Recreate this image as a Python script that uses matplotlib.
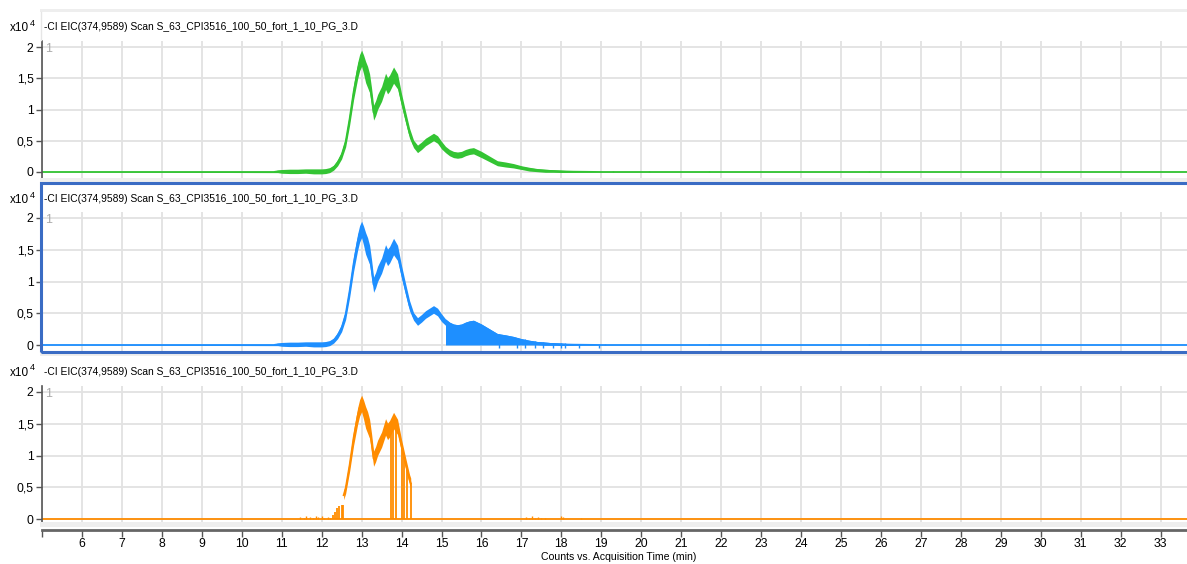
import matplotlib
matplotlib.use("Agg")
import numpy as np
import matplotlib.pyplot as plt
from matplotlib.patches import Rectangle
from matplotlib.lines import Line2D

W, H = 1187, 564

# retention time (min) and the EIC trace (counts x10^4)
rt = [5.0, 10.8, 10.9, 11.0, 11.2, 11.4, 11.6, 11.8, 12.0, 12.1, 12.2, 12.3, 12.4,
      12.5, 12.6, 12.7, 12.8, 12.9, 12.95, 13.0, 13.05, 13.1, 13.15, 13.2, 13.25, 13.3,
      13.35, 13.4, 13.5, 13.6, 13.65, 13.7, 13.8, 13.9, 14.0, 14.1, 14.2, 14.3, 14.4,
      14.5, 14.6, 14.7, 14.8, 14.9, 15.0, 15.1, 15.2, 15.3, 15.4, 15.5, 15.6,
      15.7, 15.8, 15.9, 16.0, 16.2, 16.4, 16.6, 16.8, 17.0, 17.2, 17.4, 17.6,
      17.8, 18.0, 18.3, 18.6, 19.0, 33.7]
eic = [0.0, 0.0, 0.01, 0.01, 0.01, 0.01, 0.015, 0.01, 0.01, 0.015, 0.03, 0.07, 0.15,
       0.27, 0.48, 0.85, 1.28, 1.62, 1.75, 1.82, 1.72, 1.60, 1.52, 1.42, 1.20, 0.95,
       1.02, 1.12, 1.25, 1.45, 1.38, 1.42, 1.55, 1.45, 1.15, 0.88, 0.62, 0.45, 0.37,
       0.42, 0.48, 0.52, 0.56, 0.52, 0.43, 0.36, 0.31, 0.28, 0.27, 0.28, 0.31,
       0.33, 0.34, 0.31, 0.28, 0.21, 0.14, 0.12, 0.10, 0.07, 0.045, 0.03, 0.02,
       0.015, 0.01, 0.005, 0.003, 0.0, 0.0]
# half width of the noise band
eic_noise = [0.0, 0.01, 0.02, 0.03, 0.035, 0.035, 0.035, 0.04, 0.04, 0.04, 0.04, 0.04, 0.05,
             0.06, 0.08, 0.1, 0.12, 0.13, 0.13, 0.13, 0.15, 0.17, 0.17, 0.15, 0.14, 0.12,
             0.12, 0.12, 0.12, 0.13, 0.13, 0.13, 0.13, 0.12, 0.1, 0.09, 0.08, 0.06, 0.06,
             0.06, 0.06, 0.06, 0.06, 0.06, 0.06, 0.05, 0.05, 0.05, 0.05, 0.05, 0.05,
             0.05, 0.05, 0.05, 0.05, 0.045, 0.04, 0.04, 0.035, 0.03, 0.03, 0.025, 0.025,
             0.02, 0.018, 0.012, 0.008, 0.003, 0.0]

green_blips = [19.3, 20.2, 21.7, 25.7]
blue_blips = [19.1, 21.7, 25.7]
blue_filled = (15.08, 18.45)
blue_drops = [16.45, 16.9, 17.1, 17.35, 17.55, 17.8, 18.0, 18.1, 18.45, 18.95]
orange_window = (12.55, 14.23)
orange_drops = [13.73, 13.79, 13.87, 14.0, 14.06, 14.13, 14.23]
orange_rise_t = [12.28, 12.33, 12.39, 12.44, 12.5, 12.54]
orange_rise_v = [0.06, 0.11, 0.17, 0.2, 0.22, 0.22]
orange_noise_t = [11.45, 11.55, 11.6, 11.7, 11.78, 11.85, 11.9, 12.0, 12.05, 12.15, 12.22,
                  17.12, 17.2, 17.27, 17.35, 17.42, 17.5, 17.6, 17.98, 18.03, 18.48]
orange_noise_v = [0.03, 0.02, 0.04, 0.03, 0.02, 0.04, 0.03, 0.05, 0.02, 0.03, 0.02,
                  0.03, 0.02, 0.04, 0.02, 0.03, 0.02, 0.02, 0.04, 0.03, 0.02]

xticks = list(range(5, 34))
xticklabels = [""] + [str(v) for v in range(6, 34)]
yticks = [0, 0.5, 1, 1.5, 2]
yticklabels = ["0", "0,5", "1", "1,5", "2"]
title = "-CI EIC(374,9589) Scan S_63_CPI3516_100_50_fort_1_10_PG_3.D"

GREEN, BLUE, ORANGE = "#33c433", "#1e8fff", "#ff8c00"
FRAME = "#3a6cc4"

plt.rcParams["font.family"] = ["Liberation Sans", "DejaVu Sans"]

rt = np.array(rt)
eic = np.array(eic)
eic_noise = np.array(eic_noise)

fig = plt.figure(figsize=(W / 100, H / 100), dpi=100)


def fx(px):
    return px / W


def fy(py):
    return 1 - py / H


# (y pixel of 0, y pixel of 2, axes top, axes bottom, header text y)
panels = [(172, 47, 41, 178, 27), (345, 218, 212, 351, 199), (519, 392, 386, 522, 372)]
axes = []
for y0, y2, top, bot, ty in panels:
    ax = fig.add_axes([fx(42), fy(bot), fx(1187 - 42), (bot - top) / H])
    sc = (y0 - y2) / 2
    ax.set_ylim((y0 - bot) / sc, (y0 - top) / sc)
    ax.set_xlim(5.0, 33.66)
    ax.set_xticks(xticks)
    ax.set_yticks(yticks)
    ax.set_yticklabels(yticklabels)
    ax.grid(True, color="#e2e2e2", lw=1.3)
    ax.set_axisbelow(True)
    for s in ["top", "right", "bottom"]:
        ax.spines[s].set_visible(False)
    ax.spines["left"].set_color("#555555")
    ax.spines["left"].set_linewidth(1.2)
    ax.tick_params(axis="y", length=4, width=1, color="#555555", labelsize=8.8, pad=2)
    ax.tick_params(axis="x", length=0, labelbottom=False)
    fig.text(fx(44), fy(ty), title, fontsize=7.4, va="center", ha="left")
    fig.text(fx(10), fy(ty + 1), "x10", fontsize=8.5, va="center", ha="left")
    fig.text(fx(30), fy(ty - 4), "4", fontsize=6.5, va="center", ha="left")
    fig.text(fx(45), fy(y2 + 2), "1", fontsize=9, color="#aaaaaa", va="center", ha="left")
    axes.append(ax)

ax1, ax2, ax3 = axes

# green trace
ax1.fill_between(rt, eic - eic_noise, eic + eic_noise, color=GREEN, lw=0)
ax1.plot(rt, eic, color=GREEN, lw=1.3)
ax1.vlines(green_blips, 0, 0.015, color=GREEN, lw=1)

# blue trace
ax2.fill_between(rt, eic - eic_noise, eic + eic_noise, color=BLUE, lw=0)
ax2.plot(rt, eic, color=BLUE, lw=1.3)
m = (rt >= blue_filled[0]) & (rt <= blue_filled[1])
ax2.fill_between(rt[m], 0, eic[m] + eic_noise[m], color=BLUE, lw=0)
ax2.vlines(blue_drops, -0.04, np.interp(blue_drops, rt, eic + eic_noise), color=BLUE, lw=1)
ax2.vlines(blue_blips, 0, 0.015, color=BLUE, lw=1)

# orange trace
m = (rt >= orange_window[0]) & (rt <= orange_window[1])
ot = np.concatenate([[orange_window[0]], rt[m], [orange_window[1]]])
ov = np.interp(ot, rt, eic)
on = np.interp(ot, rt, eic_noise)
ax3.plot([5.0, 33.7], [0, 0], color=ORANGE, lw=1.3)
ax3.fill_between(ot, ov - on, ov + on, color=ORANGE, lw=0)
ax3.plot(ot, ov, color=ORANGE, lw=1.3)
ax3.vlines(orange_drops, 0, np.interp(orange_drops, rt, eic), color=ORANGE, lw=1.3)
ax3.vlines(orange_rise_t, 0, orange_rise_v, color=ORANGE, lw=1.3)
ax3.vlines(orange_noise_t, 0, orange_noise_v, color=ORANGE, lw=1)

# bottom axis
ax3.spines["bottom"].set_visible(True)
ax3.spines["bottom"].set_position(("outward", 6))
ax3.spines["bottom"].set_color("#666666")
ax3.spines["bottom"].set_linewidth(2)
ax3.tick_params(axis="x", length=5, width=1, color="#555555", direction="out",
                labelbottom=True, labelsize=8.8, pad=0.5)
ax3.set_xticklabels(xticklabels)
fig.text(fx(619), fy(557), "Counts vs. Acquisition Time (min)", fontsize=7.6,
         ha="center", va="center")

# light bands between panels and the blue selection frame
for ya, yb in [(9, 12), (178, 182), (353, 356), (522, 527)]:
    fig.patches.append(Rectangle((fx(40), fy(yb)), fx(W - 40), (yb - ya) / H,
                                 transform=fig.transFigure, color="#eeeeee", lw=0))
fig.lines.append(Line2D([fx(40.5), fx(40.5)], [fy(12), fy(40)], transform=fig.transFigure,
                        color="#e6e6e6", lw=1))
fig.patches.append(Rectangle((fx(41), fy(352)), fx(1200 - 41), (352 - 183) / H,
                             transform=fig.transFigure, fill=False, ec=FRAME, lw=2.2,
                             clip_on=False))

fig.savefig("out.png", dpi=100)
